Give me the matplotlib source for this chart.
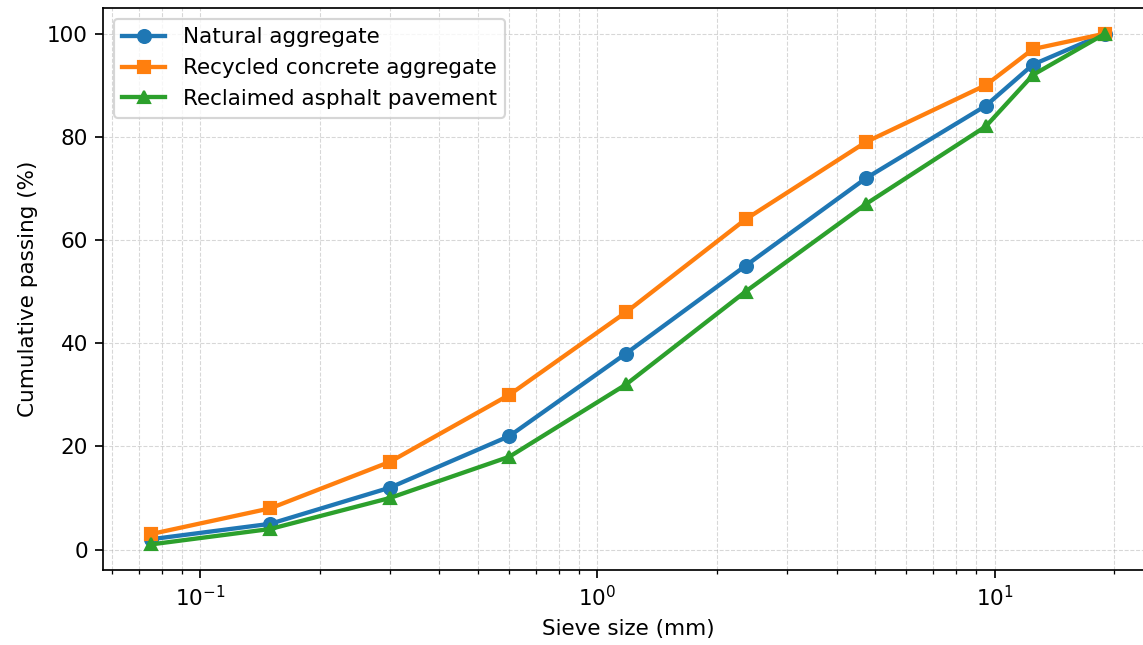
import matplotlib
matplotlib.use('Agg')
import matplotlib.pyplot as plt

# sieve sizes (mm) and cumulative passing (%)
sieve = [0.075, 0.15, 0.3, 0.6, 1.18, 2.36, 4.75, 9.5, 12.5, 19]
natural = [2, 5, 12, 22, 38, 55, 72, 86, 94, 100]
recycled = [3, 8, 17, 30, 46, 64, 79, 90, 97, 100]
rap = [1, 4, 10, 18, 32, 50, 67, 82, 92, 100]

dpi = 155
fig = plt.figure(figsize=(1143 / dpi, 645 / dpi), dpi=dpi)
# right edge of the axes sits just past the canvas, like the cropped reference
ax = fig.add_axes([103 / 1143, 75 / 645, 1050 / 1143, 562 / 645])

ax.plot(sieve, natural, marker='o', lw=2, ms=6, label='Natural aggregate')
ax.plot(sieve, recycled, marker='s', lw=2, ms=6, label='Recycled concrete aggregate')
ax.plot(sieve, rap, marker='^', lw=2, ms=6, label='Reclaimed asphalt pavement')

ax.set_xscale('log')
ax.set_xlabel('Sieve size (mm)')
ax.set_ylabel('Cumulative passing (%)')
ax.grid(True, which='both', linestyle='--', linewidth=0.5, alpha=0.5)
ax.legend(loc='upper left')

fig.savefig('out.png', dpi=dpi)
